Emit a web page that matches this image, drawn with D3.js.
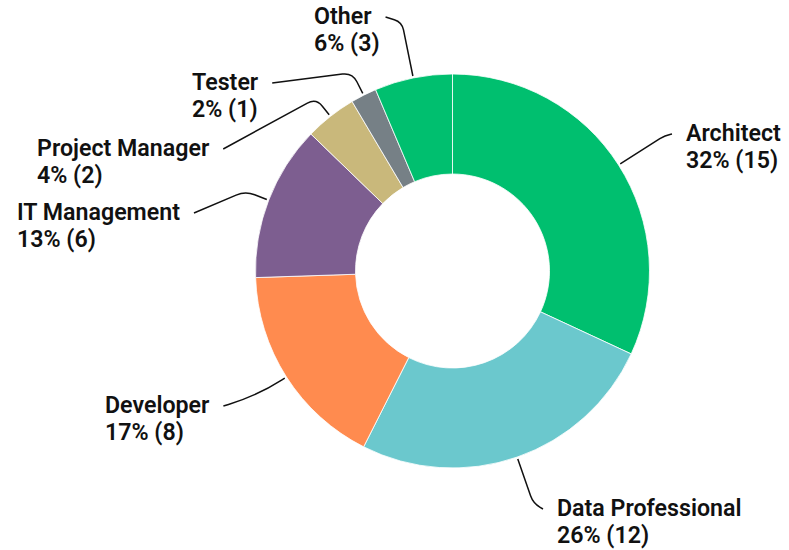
<!DOCTYPE html>
<html>
<head>
<meta charset="utf-8">
<script src="https://cdn.jsdelivr.net/npm/d3@7"></script>
<style>
  html, body { margin: 0; padding: 0; background: #fff; }
  svg { display: block; }
  text { font-family: Roboto, "Noto Sans", sans-serif; font-weight: 600; font-size: 23.2px; fill: #111; }
</style>
</head>
<body>
<svg id="chart" width="789" height="550"></svg>
<script>
// ---- data ----
const categories = ["Architect", "Data Professional", "Developer", "IT Management", "Project Manager", "Tester", "Other"];
const counts = [15, 12, 8, 6, 2, 1, 3];
const percentLabels = ["32%", "26%", "17%", "13%", "4%", "2%", "6%"];
const colors = ["#00BF6F", "#6BC8CD", "#FF8B4F", "#7D5E90", "#C9B87B", "#768086", "#00BF6F"];

// ---- layout (label placement, not data) ----
const layout = {
  "Architect":         { x: 686, y: 141, side: "right", elbowR: 252, round: 6 },
  "Data Professional": { x: 557, y: 516, side: "right", elbowR: 246, round: 8 },
  "Developer":         { x: 105, y: 413, side: "left",  elbowR: 232, round: 30 },
  "IT Management":     { x: 17,  y: 220, side: "left",  elbowR: 222, round: 10 },
  "Project Manager":   { x: 37,  y: 156, side: "left",  elbowR: 220, round: 10 },
  "Tester":            { x: 192, y: 90,  side: "left",  elbowR: 222, round: 10 },
  "Other":             { x: 314, y: 24,  side: "left",  elbowR: 254, round: 8 }
};

const svg = d3.select("#chart");
const cx = 452.5, cy = 271, outerR = 197, innerR = 97;
const g = svg.append("g").attr("transform", `translate(${cx},${cy})`);

const rows = categories.map((c, i) => ({ name: c, value: counts[i], pct: percentLabels[i], color: colors[i] }));
const pie = d3.pie().value(d => d.value).sort(null);
const arcs = pie(rows);
const arc = d3.arc().innerRadius(innerR).outerRadius(outerR);

g.selectAll("path.slice").data(arcs).enter().append("path")
  .attr("class", "slice")
  .attr("d", arc)
  .attr("fill", d => d.data.color)
  .attr("stroke", "#fff")
  .attr("stroke-width", 0.8);

// labels
const labelG = svg.append("g");
arcs.forEach(a => {
  const L = layout[a.data.name];
  const t = labelG.append("text").attr("x", L.x).attr("y", L.y);
  t.append("tspan").attr("x", L.x).attr("y", L.y).text(a.data.name);
  const first = t.select("tspan").node();
  t.append("tspan").attr("x", L.x).attr("y", L.y + 27).text(`${a.data.pct} (${a.data.value})`);
  const w = first.getComputedTextLength();

  const mid = (a.startAngle + a.endAngle) / 2;
  const dx = Math.sin(mid), dy = -Math.cos(mid);
  const A = [cx + dx * (outerR + 2), cy + dy * (outerR + 2)];
  const E = [cx + dx * L.elbowR, cy + dy * L.elbowR];
  const P = L.side === "right" ? [L.x - 14, L.y - 7] : [L.x + w + 14, L.y - 7];

  const dist = (p, q) => Math.hypot(q[0] - p[0], q[1] - p[1]);
  const dAE = dist(A, E), dEP = dist(E, P);
  const r = Math.min(L.round, dAE * 0.9, dEP * 0.9);
  const E1 = [E[0] - (E[0] - A[0]) / dAE * r, E[1] - (E[1] - A[1]) / dAE * r];
  const E2 = [E[0] + (P[0] - E[0]) / dEP * r, E[1] + (P[1] - E[1]) / dEP * r];
  const path = d3.path();
  path.moveTo(A[0], A[1]);
  path.lineTo(E1[0], E1[1]);
  path.quadraticCurveTo(E[0], E[1], E2[0], E2[1]);
  path.lineTo(P[0], P[1]);
  labelG.append("path").attr("d", path.toString())
    .attr("fill", "none").attr("stroke", "#111").attr("stroke-width", 1.5);
});
</script>
</body>
</html>
